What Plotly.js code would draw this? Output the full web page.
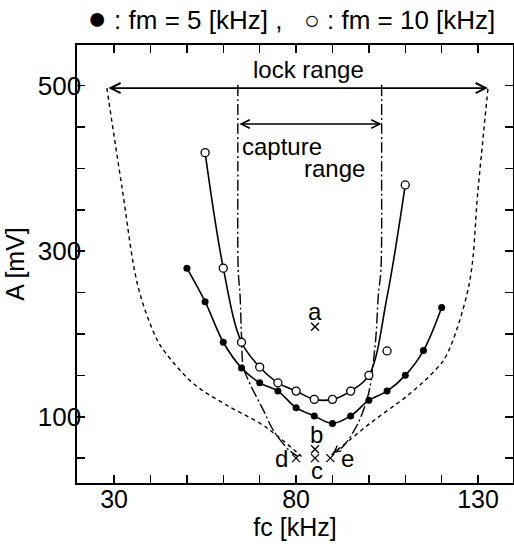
<!DOCTYPE html>
<html>
<head>
<meta charset="utf-8">
<script src="https://cdn.plot.ly/plotly-3.0.1.min.js"></script>
<style>html,body{margin:0;padding:0;background:#fff;}#chart{width:514px;height:544px;}</style>
</head>
<body>
<div id="chart"></div>
<script>
// ---- data ----
const fcFilled = [50, 55, 60, 65, 70, 75, 80, 85, 90, 95, 100, 105, 110, 115, 120];
const aFilled  = [279.5, 239, 190, 159, 141, 131, 111, 101, 92, 101, 120, 131, 150, 180, 232];

const fcOpen = [55, 60, 65, 70, 75, 80, 85, 90, 95, 100, 105, 110];
const aOpen  = [419, 279.5, 190, 160, 141, 131, 121, 121, 131, 150, 179.5, 380];
// hand-drawn fitted curve through the open circles
const fcOpenCurve = [55, 60, 65, 70, 75, 80, 85, 90, 95, 100, 105, 110];
const aOpenCurve  = [419, 279.5, 190, 160, 141, 131, 121, 121, 131, 150, 245, 380];

// lock range boundary (short dashed)
const lockLeftX  = [28, 32.2, 36.7, 41.7, 44, 51.8, 60.9, 70.1, 75.1, 81.5];
const lockLeftY  = [497, 376, 255, 194, 178, 140, 114, 92, 76, 52];
const lockRightX = [132.7, 130, 127.5, 121.3, 118.6, 111.3, 100.3, 92.5, 90.1];
const lockRightY = [496, 375, 259, 174, 158, 128, 92, 64, 56];

// capture range boundary (dash-dot)
const capLeftX  = [64, 64, 64.1, 64.6, 65.05, 65.5, 67.3, 71, 73.7, 78, 80.5];
const capLeftY  = [501, 400, 277, 247, 192, 160, 140, 108, 84, 60, 52];
const capRightX = [103.5, 103.5, 103.3, 102.6, 101.9, 100.3, 99.4, 97, 92.9, 89.7];
const capRightY = [501, 400, 277, 247, 195, 136, 120, 92, 64, 54];

// range arrows
const lockRange = [28, 132.7];
const lockLevel = 497;
const captureRange = [64, 103.5];
const captureLevel = 453.5;

// marked points a..e
const ptLabels = ['a', 'b', 'c', 'd', 'e'];
const ptX = [85.2, 85.2, 85.2, 80, 89.4];
const ptY = [208.8, 60.7, 50, 50, 50];
const ptLabelX = [85.3, 85.6, 85.8, 76, 94];
const ptLabelY = [227, 78, 35.5, 50, 50];

// axis ticks
const xTickVals = [30, 40, 50, 60, 70, 80, 90, 100, 110, 120, 130];
const xTickText = ['30', '', '', '', '', '80', '', '', '', '', '130'];
const yTickVals = [50, 100, 150, 200, 250, 300, 350, 400, 450, 500];
const yTickText = ['', '100', '', '', '', '300', '', '', '', '500'];

const FONT = 'Liberation Sans, Arial, Helvetica, sans-serif';
const K = '#000';

const traces = [
  {x: lockLeftX, y: lockLeftY, mode: 'lines', line: {color: K, width: 1.4, dash: '4px,3.5px', shape: 'spline'}, hoverinfo: 'skip', showlegend: false},
  {x: lockRightX, y: lockRightY, mode: 'lines', line: {color: K, width: 1.4, dash: '4px,3.5px', shape: 'spline'}, hoverinfo: 'skip', showlegend: false},
  {x: capLeftX, y: capLeftY, mode: 'lines', line: {color: K, width: 1.4, dash: '11px,3px,2px,3px', shape: 'spline'}, hoverinfo: 'skip', showlegend: false},
  {x: capRightX, y: capRightY, mode: 'lines', line: {color: K, width: 1.4, dash: '11px,3px,2px,3px', shape: 'spline'}, hoverinfo: 'skip', showlegend: false},
  {x: fcOpenCurve, y: aOpenCurve, mode: 'lines', line: {color: K, width: 1.6, shape: 'spline', smoothing: 1}, hoverinfo: 'skip', showlegend: false},
  {x: fcFilled, y: aFilled, mode: 'lines+markers', name: 'fm = 5 kHz',
   line: {color: K, width: 1.6, shape: 'spline', smoothing: 1},
   marker: {symbol: 'circle', size: 7, color: K}, showlegend: false},
  {x: fcOpen, y: aOpen, mode: 'markers', name: 'fm = 10 kHz',
   marker: {symbol: 'circle', size: 8, color: '#fff', line: {color: K, width: 1.3}}, showlegend: false},
  {x: ptX, y: ptY, mode: 'markers', marker: {symbol: 'x-thin-open', size: 8, color: K, line: {color: K, width: 1.3}}, hoverinfo: 'skip', showlegend: false}
];

const nR = lockRightX.length;
const annotations = [
  {x: lockRange[1], y: lockLevel, ax: lockRange[0], ay: lockLevel, xref: 'x', yref: 'y', axref: 'x', ayref: 'y',
   text: '', showarrow: true, arrowside: 'end+start', arrowhead: 5, startarrowhead: 5, arrowsize: 1.1, startarrowsize: 1.1, arrowwidth: 1.8, arrowcolor: K, standoff: 0, startstandoff: 0},
  {x: captureRange[1], y: captureLevel, ax: captureRange[0], ay: captureLevel, xref: 'x', yref: 'y', axref: 'x', ayref: 'y',
   text: '', showarrow: true, arrowside: 'end+start', arrowhead: 5, startarrowhead: 5, arrowsize: 1.2, startarrowsize: 1.2, arrowwidth: 1.4, arrowcolor: K, standoff: 0, startstandoff: 0},
  // small arrowhead at the lower end of the right lock boundary
  {x: lockRightX[nR - 1], y: lockRightY[nR - 1], ax: lockRightX[nR - 2], ay: lockRightY[nR - 2], xref: 'x', yref: 'y', axref: 'x', ayref: 'y',
   text: '', showarrow: true, arrowhead: 5, arrowsize: 1.1, arrowwidth: 1.2, arrowcolor: K, standoff: 0, startstandoff: 0},
  {x: 83.5, y: 519, xref: 'x', yref: 'y', text: 'lock range', showarrow: false, xanchor: 'center', yanchor: 'middle', font: {family: FONT, size: 24, color: K}},
  {x: 64.6, y: 427, xref: 'x', yref: 'y', text: 'capture', showarrow: false, xanchor: 'left', yanchor: 'middle', font: {family: FONT, size: 24, color: K}},
  {x: 99.4, y: 400, xref: 'x', yref: 'y', text: 'range', showarrow: false, xanchor: 'right', yanchor: 'middle', font: {family: FONT, size: 24, color: K}}
];
for (let i = 0; i < ptLabels.length; i++) {
  annotations.push({x: ptLabelX[i], y: ptLabelY[i], xref: 'x', yref: 'y', text: ptLabels[i], showarrow: false,
    xanchor: 'center', yanchor: 'middle', font: {family: FONT, size: 24, color: K}});
}

const layout = {
  width: 514, height: 544,
  margin: {l: 77, r: 1, t: 45, b: 61, pad: 0},
  paper_bgcolor: '#fff', plot_bgcolor: '#fff',
  font: {family: FONT, size: 24, color: K},
  title: {text: '<span style="font-size:32px">\u25CF</span> : fm = 5 [kHz] ,\u00a0\u00a0\u00a0\u25CB : fm = 10 [kHz]', font: {family: FONT, size: 26, color: K},
          xref: 'container', x: 0.567, xanchor: 'center', yref: 'container', y: 0.963, yanchor: 'middle'},
  xaxis: {range: [19.8, 139.6], tickvals: xTickVals, ticktext: xTickText, ticks: 'inside', ticklen: 8, tickwidth: 1.5, tickcolor: K,
          showline: true, linecolor: K, linewidth: 1.6, mirror: 'ticks', showgrid: false, zeroline: false,
          ticklabelstandoff: -7,
          tickfont: {family: FONT, size: 25, color: K},
          title: {text: 'fc [kHz]', font: {family: FONT, size: 25, color: K}, standoff: 4}},
  yaxis: {range: [20, 549], tickvals: yTickVals, ticktext: yTickText, ticks: 'inside', ticklen: 8, tickwidth: 1.5, tickcolor: K,
          showline: true, linecolor: K, linewidth: 1.6, mirror: 'ticks', showgrid: false, zeroline: false,
          ticklabelstandoff: -11,
          tickfont: {family: FONT, size: 26, color: K},
          title: {text: 'A [mV]', font: {family: FONT, size: 25, color: K}, standoff: 6}},
  annotations: annotations,
  showlegend: false
};

Plotly.newPlot('chart', traces, layout, {displayModeBar: false, staticPlot: true});
</script>
</body>
</html>
